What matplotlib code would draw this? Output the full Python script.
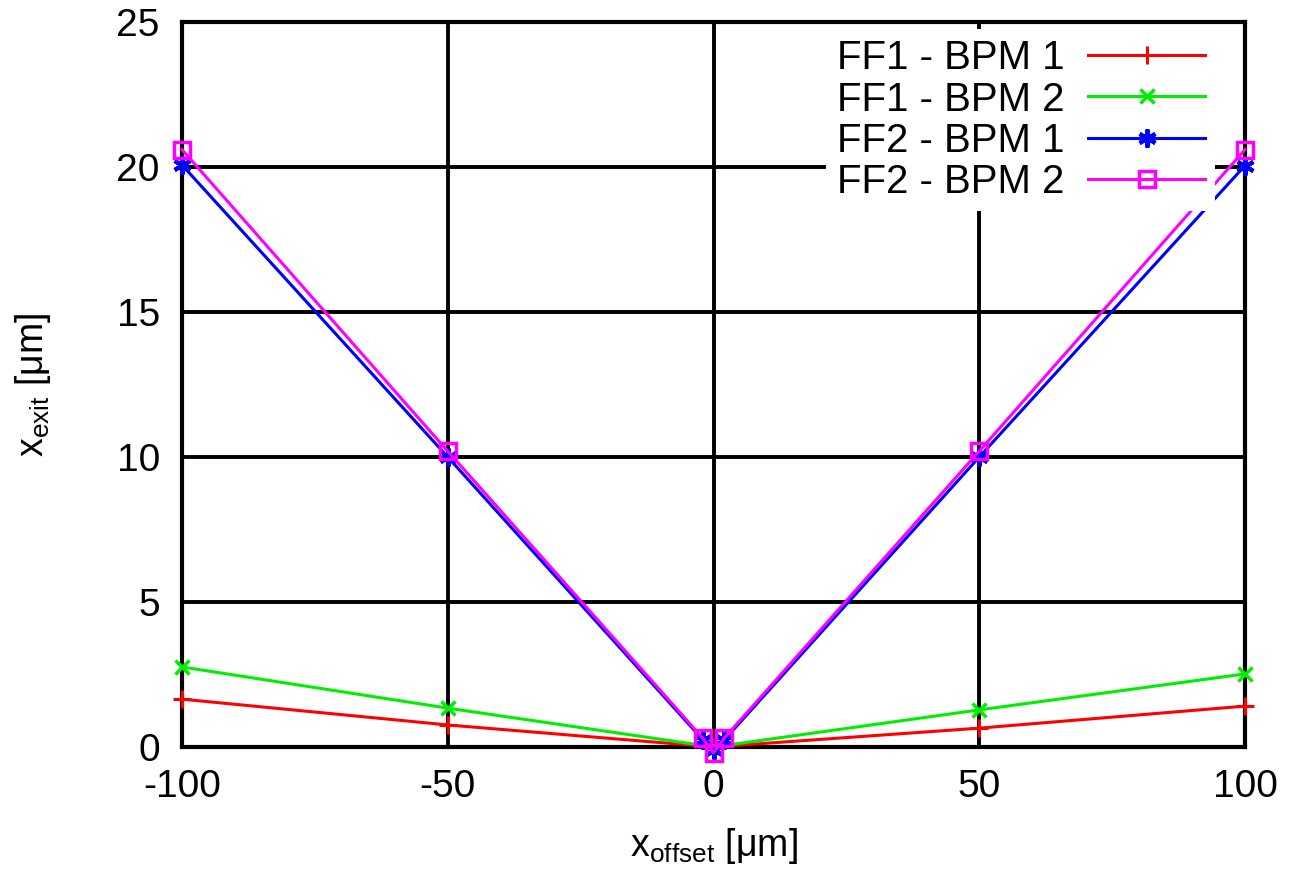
import matplotlib
matplotlib.use("Agg")
import matplotlib.pyplot as plt

# x offset [um] and measured x exit [um]
X_FF1 = [-100, -50, 0, 50, 100]
FF1_BPM1 = [1.65, 0.76, 0.0, 0.65, 1.41]
FF1_BPM2 = [2.76, 1.34, 0.0, 1.28, 2.52]

X_FF2 = [-100, -50, -2, 0, 2, 50, 100]
FF2_BPM1 = [20.07, 10.0, 0.25, -0.1, 0.24, 10.0, 20.05]
FF2_BPM2 = [20.6, 10.2, 0.3, -0.2, 0.3, 10.2, 20.6]

plt.rcParams.update({
    "font.family": ["Liberation Sans", "DejaVu Sans"],
    "mathtext.fontset": "custom",
    "mathtext.rm": "Liberation Sans",
    "axes.unicode_minus": False,
})

fig = plt.figure(figsize=(12.89, 8.74), dpi=100)
ax = fig.add_axes([182 / 1289, 1 - 747 / 874, (1245 - 182) / 1289, (747 - 22) / 874])

ax.plot(X_FF1, FF1_BPM1, color="#ff0000", lw=2.2, marker="+", ms=13, mew=2.2,
        label="FF1 - BPM 1", clip_on=False, zorder=3)
ax.plot(X_FF1, FF1_BPM2, color="#00ee00", lw=2.2, marker="x", ms=10, mew=2.5,
        label="FF1 - BPM 2", clip_on=False, zorder=3)
ax.plot(X_FF2, FF2_BPM1, color="#0000ff", lw=2.2, marker=(6, 2, 0), ms=13, mew=3,
        label="FF2 - BPM 1", clip_on=False, zorder=3)
ax.plot(X_FF2, FF2_BPM2, color="#ff00ff", lw=2.2, marker="s", ms=12, mew=2.5,
        mfc="none", label="FF2 - BPM 2", clip_on=False, zorder=4)

ax.set_xlim(-100, 100)
ax.set_ylim(0, 25)
ax.set_xticks([-100, -50, 0, 50, 100])
ax.set_yticks([0, 5, 10, 15, 20, 25])
ax.grid(True, color="black", lw=2.8)
ax.set_axisbelow(True)
for s in ax.spines.values():
    s.set_linewidth(3)
ax.tick_params(axis="x", labelsize=28, length=0, pad=16)
ax.tick_params(axis="y", labelsize=28, length=0, pad=16)

ax.set_xlabel(r"x$_{\mathrm{offset}}$ [μm]", fontsize=27, labelpad=15)
ax.set_ylabel(r"x$_{\mathrm{exit}}$ [μm]", fontsize=27, labelpad=46)

leg = ax.legend(loc="upper right", bbox_to_anchor=(0.972, 0.99), fontsize=29,
                frameon=True, fancybox=False, edgecolor="none", framealpha=1,
                markerfirst=False, handlelength=2.9, handletextpad=0.6,
                labelspacing=0.08, borderpad=0.25, borderaxespad=0.0)
leg.get_frame().set_facecolor("white")

fig.savefig("out.png", dpi=100, facecolor="white")
